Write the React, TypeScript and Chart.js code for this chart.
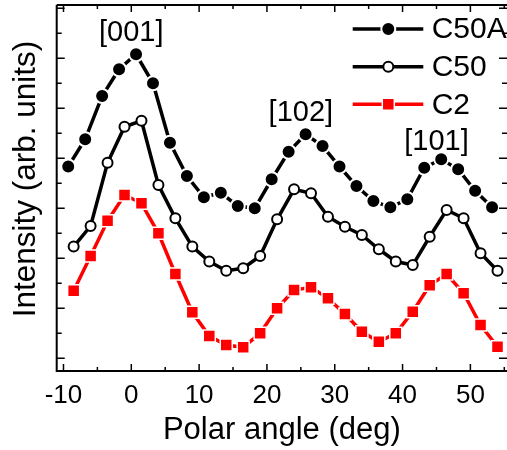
import React, { useEffect, useRef } from "react";
import { Chart, registerables } from "chart.js";

Chart.register(...registerables);

const seriesNames = ["C50A", "C50", "C2"];

const xC50A = [-9.3, -6.8, -4.3, -1.8, 0.7, 3.2, 5.7, 8.2, 10.7, 13.2, 15.7, 18.2, 20.7, 23.2, 25.7, 28.2, 30.7, 33.2, 35.7, 38.2, 40.7, 43.2, 45.7, 48.2, 50.7, 53.2];
const yC50A = [7.67, 8.76, 10.49, 11.56, 12.16, 11.0, 8.62, 7.29, 6.44, 6.62, 6.09, 6.0, 7.16, 8.26, 8.96, 8.49, 7.67, 6.89, 6.29, 6.04, 6.36, 7.62, 7.96, 7.56, 6.7, 6.04];

const xC50 = [-8.5, -6, -3.5, -1, 1.5, 4, 6.5, 9, 11.5, 14, 16.5, 19, 21.5, 24, 26.5, 29, 31.5, 34, 36.5, 39, 41.5, 44, 46.5, 49, 51.5, 54];
const yC50 = [4.47, 5.29, 7.82, 9.26, 9.5, 6.93, 5.6, 4.47, 3.87, 3.5, 3.6, 4.09, 5.56, 6.76, 6.6, 5.66, 5.26, 4.93, 4.36, 3.87, 3.73, 4.86, 5.93, 5.6, 4.2, 3.5];

const xC2 = [-8.5, -6, -3.5, -1, 1.5, 4, 6.5, 9, 11.5, 14, 16.5, 19, 21.5, 24, 26.5, 29, 31.5, 34, 36.5, 39, 41.5, 44, 46.5, 49, 51.5, 54];
const yC2 = [2.7, 4.09, 5.5, 6.53, 6.2, 5.0, 3.37, 1.84, 0.89, 0.53, 0.44, 1.0, 2.0, 2.73, 2.84, 2.4, 1.77, 1.06, 0.66, 1.0, 1.86, 2.92, 3.37, 2.6, 1.33, 0.46];

const xTickValues = [-10, 0, 10, 20, 30, 40, 50];
const xMinorTicks = [-5, 5, 15, 25, 35, 45, 55];
const yMajorTicks = [0, 2, 4, 6, 8, 10, 12, 14];
const yMinorTicks = [1, 3, 5, 7, 9, 11, 13];

const peakLabels = ["[001]", "[102]", "[101]"];
const peakX = [0, 25, 45];
const peakY = [13.0, 9.83, 8.65];

const yTitle = "Intensity (arb. units)";
const xTitle = "Polar angle (deg)";

const FONT = '"Liberation Sans", Arial, sans-serif';

const toPoints = (xs: number[], ys: number[]) => xs.map((x, i) => ({ x, y: ys[i] }));

const overlayPlugin = {
  id: "overlay",
  afterDraw(chart: any) {
    const { ctx, chartArea } = chart;
    const xs = chart.scales.x;
    const ys = chart.scales.y;
    const { left, right, top, bottom } = chartArea;
    ctx.save();
    ctx.strokeStyle = "#000";
    ctx.lineWidth = 2;
    // frame
    ctx.beginPath();
    ctx.moveTo(left, top);
    ctx.lineTo(right + 2, top);
    ctx.moveTo(left, top);
    ctx.lineTo(left, bottom);
    ctx.lineTo(right + 2, bottom);
    ctx.moveTo(right + 1, top);
    ctx.lineTo(right + 1, bottom);
    ctx.stroke();
    // ticks
    ctx.lineWidth = 1.5;
    ctx.beginPath();
    const xt = (vals: number[], len: number) => {
      vals.forEach((v) => {
        const px = xs.getPixelForValue(v);
        ctx.moveTo(px, bottom);
        ctx.lineTo(px, bottom - len);
        ctx.moveTo(px, top);
        ctx.lineTo(px, top + len);
      });
    };
    xt(xTickValues, 7);
    xt(xMinorTicks, 4);
    const yt = (vals: number[], len: number) => {
      vals.forEach((v) => {
        const py = ys.getPixelForValue(v);
        if (py < top || py > bottom) return;
        ctx.moveTo(left, py);
        ctx.lineTo(left + len, py);
        ctx.moveTo(right, py);
        ctx.lineTo(right - len, py);
      });
    };
    yt(yMajorTicks, 8);
    yt(yMinorTicks, 5);
    ctx.stroke();

    // y axis title
    ctx.fillStyle = "#000";
    ctx.font = `31.5px ${FONT}`;
    ctx.textAlign = "center";
    ctx.textBaseline = "middle";
    ctx.save();
    ctx.translate(26, 179);
    ctx.rotate(-Math.PI / 2);
    ctx.fillText(yTitle, 0, 0);
    ctx.restore();

    // peak annotations
    ctx.font = `29px ${FONT}`;
    peakLabels.forEach((t, i) => {
      ctx.fillText(t, xs.getPixelForValue(peakX[i]), ys.getPixelForValue(peakY[i]));
    });

    // legend
    const rowsY = [29, 66.7, 104.3];
    const x0 = 352.7;
    const x1 = 423.3;
    const xm = 388.3;
    chart.data.datasets.forEach((ds: any, i: number) => {
      const y = rowsY[i];
      ctx.strokeStyle = ds.borderColor;
      ctx.lineWidth = ds.borderWidth;
      ctx.beginPath();
      ctx.moveTo(x0, y);
      ctx.lineTo(x1, y);
      ctx.stroke();
      ctx.fillStyle = ds.pointBackgroundColor;
      ctx.strokeStyle = ds.pointBorderColor;
      ctx.lineWidth = ds.pointBorderWidth;
      const r = ds.pointRadius;
      ctx.beginPath();
      if (ds.pointStyle === "rect") {
        const s = Math.SQRT1_2 * r;
        ctx.rect(xm - s, y - s, 2 * s, 2 * s);
      } else {
        ctx.arc(xm, y, r, 0, Math.PI * 2);
      }
      ctx.fill();
      ctx.stroke();
      ctx.fillStyle = "#000";
      ctx.font = `30px ${FONT}`;
      ctx.textAlign = "left";
      ctx.textBaseline = "middle";
      ctx.fillText(ds.label, 431.7, y + 1);
    });
    ctx.restore();
  },
};

export default function App() {
  const ref = useRef<HTMLCanvasElement | null>(null);
  useEffect(() => {
    if (!ref.current) return;
    const chart = new Chart(ref.current, {
      type: "line",
      data: {
        datasets: [
          {
            label: seriesNames[0],
            data: toPoints(xC50A, yC50A),
            borderColor: "#000000",
            borderWidth: 3.5,
            pointStyle: "circle",
            pointRadius: 7,
            pointBackgroundColor: "#000000",
            pointBorderColor: "#ffffff",
            pointBorderWidth: 2,
            tension: 0,
          },
          {
            label: seriesNames[1],
            data: toPoints(xC50, yC50),
            borderColor: "#000000",
            borderWidth: 3.5,
            pointStyle: "circle",
            pointRadius: 5,
            pointBackgroundColor: "#ffffff",
            pointBorderColor: "#000000",
            pointBorderWidth: 2,
            tension: 0,
          },
          {
            label: seriesNames[2],
            data: toPoints(xC2, yC2),
            borderColor: "#ff0000",
            borderWidth: 3.5,
            pointStyle: "rect",
            pointRadius: 8.5,
            pointBackgroundColor: "#ff0000",
            pointBorderColor: "#ffffff",
            pointBorderWidth: 1.5,
            tension: 0,
          },
        ],
      } as any,
      options: {
        animation: false,
        responsive: false,
        devicePixelRatio: 1,
        layout: { autoPadding: false, padding: { left: 0, right: 0, top: 5, bottom: 0 } },
        plugins: { legend: { display: false }, tooltip: { enabled: false } },
        scales: {
          x: {
            type: "linear",
            position: "bottom",
            min: -11,
            max: 55.4,
            grid: { display: false, drawTicks: false },
            border: { display: false },
            ticks: {
              color: "#000",
              font: { family: FONT, size: 26 },
              padding: 9,
              maxRotation: 0,
              autoSkip: false,
            },
            title: {
              display: true,
              text: xTitle,
              color: "#000",
              font: { family: FONT, size: 31 },
              padding: { top: 0, bottom: 1 },
            },
            afterBuildTicks: (s: any) => {
              s.ticks = xTickValues.map((v) => ({ value: v }));
            },
            afterFit: (s: any) => {
              s.height = 79;
              s.paddingLeft = 0;
              s.paddingRight = 0;
              s.paddingTop = 0;
              s.paddingBottom = 0;
            },
          },
          y: {
            type: "linear",
            position: "left",
            min: -0.508,
            max: 14.13,
            grid: { display: false, drawTicks: false },
            border: { display: false },
            ticks: { display: false },
            afterFit: (s: any) => {
              s.width = 56.7;
              s.paddingLeft = 0;
              s.paddingRight = 0;
              s.paddingTop = 0;
              s.paddingBottom = 0;
            },
          },
        },
      } as any,
      plugins: [overlayPlugin],
    });
    return () => chart.destroy();
  }, []);
  return (
    <div style={{ position: "fixed", left: 0, top: 0, width: 507, height: 450, overflow: "hidden", background: "#fff" }}>
      <canvas ref={ref} width={507} height={450} style={{ display: "block" }} />
    </div>
  );
}
